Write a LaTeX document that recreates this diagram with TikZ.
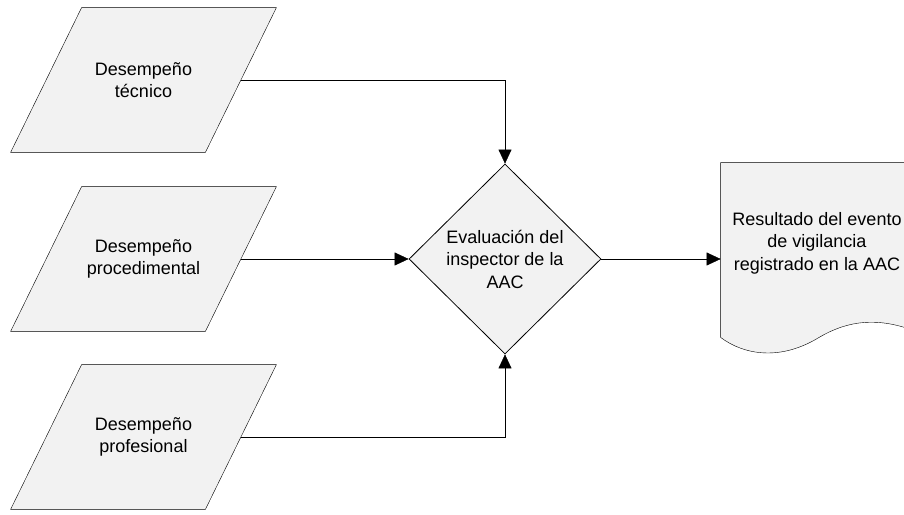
\documentclass[tikz,border=0pt]{standalone}
\usepackage{fontspec}
\setmainfont{Liberation Sans}
\usetikzlibrary{shapes.geometric,arrows.meta}
\definecolor{relleno}{HTML}{F2F2F2}
\pgfdeclarelayer{fondo}
\pgfsetlayers{fondo,main}
\begin{document}
\begin{tikzpicture}
[x=1pt, y=1pt, line width=.8pt,
 datos/.style={minimum width=194pt, minimum height=144pt, inner sep=0pt,
   align=center, font=\fontsize{18}{22.5}\selectfont},
 decision/.style={diamond, minimum width=192pt, minimum height=190pt, inner sep=0pt,
   draw, fill=relleno, align=center, font=\fontsize{18}{22.5}\selectfont},
 forma/.style={draw, fill=relleno},
 flecha/.style={-{Triangle[length=14pt,width=13pt]}}]

\useasboundingbox (0,0) rectangle (904,514);
%________________________________________________%
\node[datos] (tecnico) at (143.5,434) {Desempeño\\técnico};
\node[datos] (proced) at (143.5,255) {Desempeño\\procedimental};
\node[datos] (profes) at (143.5,77) {Desempeño\\profesional};
%________________________________________________%
\node[decision] (evalua) at (505,255) {Evaluación del\\inspector de la\\AAC};
%________________________________________________%
\node[datos, minimum width=192pt, minimum height=160pt] (resultado) at (817,271)
  {Resultado del evento\\de vigilancia\\registrado en la AAC};
%________________________________________________%
\begin{pgfonlayer}{fondo}
% paralelogramos
\draw[forma] ([xshift=35.5pt]tecnico.north west) -- ([xshift=35.5pt]tecnico.north east)
  -- ([xshift=-35.5pt]tecnico.south east) -- ([xshift=-35.5pt]tecnico.south west) -- cycle;
\draw[forma] ([xshift=35.5pt]proced.north west) -- ([xshift=35.5pt]proced.north east)
  -- ([xshift=-35.5pt]proced.south east) -- ([xshift=-35.5pt]proced.south west) -- cycle;
\draw[forma] ([xshift=35.5pt]profes.north west) -- ([xshift=35.5pt]profes.north east)
  -- ([xshift=-35.5pt]profes.south east) -- ([xshift=-35.5pt]profes.south west) -- cycle;
% documento
\draw[forma] (resultado.north west) -- (resultado.north east)
  -- ([yshift=-7pt]resultado.south east)
  .. controls +(-33,12) and +(33,20) .. ([xshift=-96pt,yshift=-15pt]resultado.south east)
  .. controls +(-37,-22) and +(24,-18) .. ([yshift=-14pt]resultado.south west) -- cycle;
\end{pgfonlayer}
%________________________________________________%
\draw[flecha] (tecnico.east) -| (evalua.north);
\draw[flecha] (proced.east) -- (evalua.west);
\draw[flecha] (profes.east) -| (evalua.south);
\draw[flecha] (evalua.east) -- (evalua.east -| resultado.west);
%________________________________________________%
\end{tikzpicture}
\end{document}
